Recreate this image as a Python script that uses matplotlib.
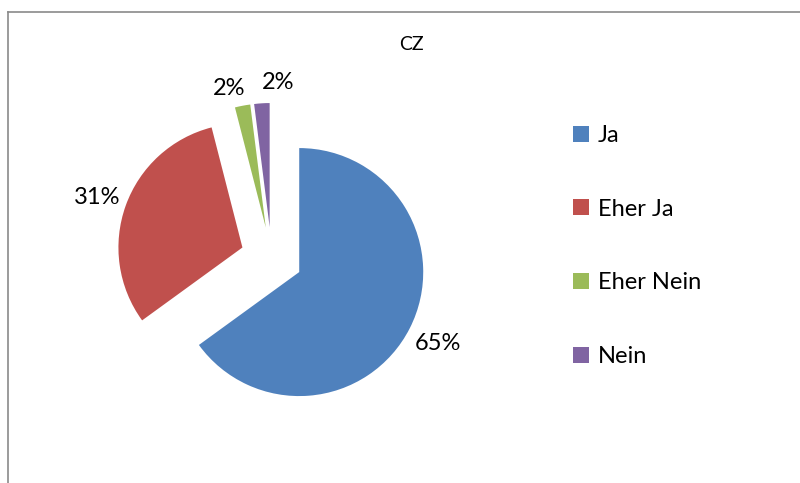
import matplotlib
matplotlib.use("Agg")
import numpy as np
import matplotlib.pyplot as plt
from matplotlib.patches import Patch
from matplotlib.lines import Line2D

# Data
categories = ["Ja", "Eher Ja", "Eher Nein", "Nein"]
values = [65, 31, 2, 2]
colors = ["#4F81BD", "#C0504D", "#9BBB59", "#8064A2"]
title = "CZ"

plt.rcParams["font.family"] = ["Lato", "DejaVu Sans"]

W, H = 800, 483
fig = plt.figure(figsize=(W / 100, H / 100), dpi=100)
ax = fig.add_axes([0, 0, 1, 1])

R = 124.0              # pie radius in px
cx, cy = 271.6, 258.0  # pie centre in px (from top-left)
explode = 0.25

wedges, texts, autotexts = ax.pie(
    values,
    colors=colors,
    startangle=90,
    counterclock=False,
    explode=[explode] * len(values),
    autopct="%1.0f%%",
    pctdistance=1.24,
    textprops={"fontsize": 17, "color": "black"},
    wedgeprops={"linewidth": 0},
)

# Label placement (Excel "best fit"-like): distance and small angular nudges
label_dist = [1.26, 1.24, 1.164, 1.164]
label_nudge = [0.0, 1.0, 4.0, -7.0]
for w, t, d, nd in zip(wedges, autotexts, label_dist, label_nudge):
    mid = np.deg2rad((w.theta1 + w.theta2) / 2)
    ang = mid + np.deg2rad(nd)
    x = explode * np.cos(mid) + d * np.cos(ang)
    y = explode * np.sin(mid) + d * np.sin(ang)
    t.set_position((x, y))
    t.set_ha("center")
    t.set_va("center")

ax.set_aspect("auto")
ax.set_xlim(-cx / R, (W - cx) / R)
ax.set_ylim(-(H - cy) / R, cy / R)
ax.axis("off")

# Title
fig.text(411 / W, 1 - 44.5 / H, title, ha="center", va="center", fontsize=14)

# Border (only top & left visible)
bc = "#8A8A8A"
fig.add_artist(Line2D([7.5 / W, 1.0], [1 - 12 / H, 1 - 12 / H], color=bc, lw=1.2,
                      transform=fig.transFigure))
fig.add_artist(Line2D([7.5 / W, 7.5 / W], [1 - 12 / H, 0.0], color=bc, lw=1.2,
                      transform=fig.transFigure))

# Legend
handles = [Patch(facecolor=c, edgecolor="none") for c in colors]
fs = 17
leg = fig.legend(
    handles, categories,
    loc="upper left",
    bbox_to_anchor=(573 / W, 1 - 125 / H),
    frameon=False,
    fontsize=fs,
    handlelength=0.68,
    handleheight=0.68,
    handletextpad=0.36,
    labelspacing=2.23,
    borderpad=0,
    borderaxespad=0,
)

fig.savefig("out.png", dpi=100)
